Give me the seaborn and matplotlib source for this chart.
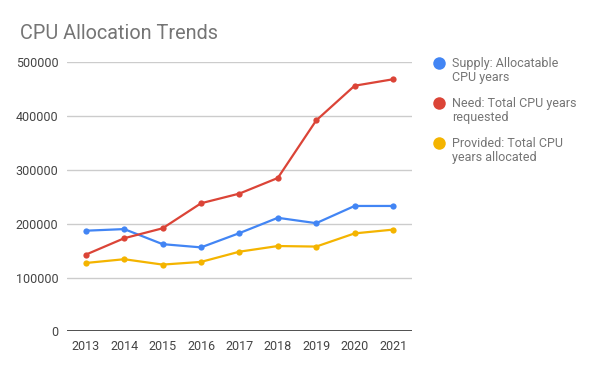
import pandas as pd
import seaborn as sns
import matplotlib.pyplot as plt
from matplotlib.lines import Line2D

years = [2013, 2014, 2015, 2016, 2017, 2018, 2019, 2020, 2021]
supply = [187000, 190000, 162000, 156000, 182500, 211000, 201000, 233000, 233000]
need = [142500, 173000, 191500, 238000, 256000, 285000, 392000, 456500, 468500]
provided = [127000, 134000, 124000, 129000, 148000, 158500, 157500, 182000, 189000]

series_names = [
    'Supply: Allocatable\nCPU years',
    'Need: Total CPU years\nrequested',
    'Provided: Total CPU\nyears allocated',
]
colors = ['#4285F4', '#DB4437', '#F4B400']
yticks = [0, 100000, 200000, 300000, 400000, 500000]

df = pd.concat([
    pd.DataFrame({'year': years, 'value': vals, 'series': name})
    for name, vals in zip(series_names, [supply, need, provided])
])

sns.set_style('white')
plt.rcParams['font.family'] = ['Roboto', 'DejaVu Sans']

W, H = 600, 371
fig = plt.figure(figsize=(6, 3.71), dpi=100)
ax = fig.add_axes([0.111, 0.107, 0.576, 0.725])

sns.lineplot(data=df, x='year', y='value', hue='series', palette=colors,
             marker='o', markersize=4.5, markeredgewidth=0, linewidth=1.6,
             legend=False, ax=ax)

ax.set_xlim(2012.5, 2021.5)
ax.set_ylim(0, 500000)
ax.set_xticks(years)
ax.set_yticks(yticks)
ax.set_yticklabels([str(v) for v in yticks])
ax.yaxis.grid(True, color='#cccccc', linewidth=1)
ax.set_axisbelow(True)
ax.axhline(0, color='#333333', linewidth=1.2, zorder=3)
for s in ax.spines.values():
    s.set_visible(False)
ax.tick_params(length=0, labelsize=9, labelcolor='#444444', pad=6)
ax.set_xlabel('')
ax.set_ylabel('')

fig.text(20 / W, 1 - 39 / H, 'CPU Allocation Trends', fontsize=14.3,
         color='#757575', va='baseline', ha='left')

# legend: dot next to the first line of each two-line label
for i, (name, c) in enumerate(zip(series_names, colors)):
    y_first = 63.3 + 40 * i
    fig.add_artist(Line2D([439 / W], [1 - y_first / H], linestyle='none',
                          marker='o', markersize=9, markerfacecolor=c,
                          markeredgewidth=0, transform=fig.transFigure))
    fig.text(452 / W, 1 - (y_first + 7) / H, name, fontsize=9,
             color='#757575', va='center', ha='left', linespacing=1.15)

fig.savefig('out.png', dpi=100)
